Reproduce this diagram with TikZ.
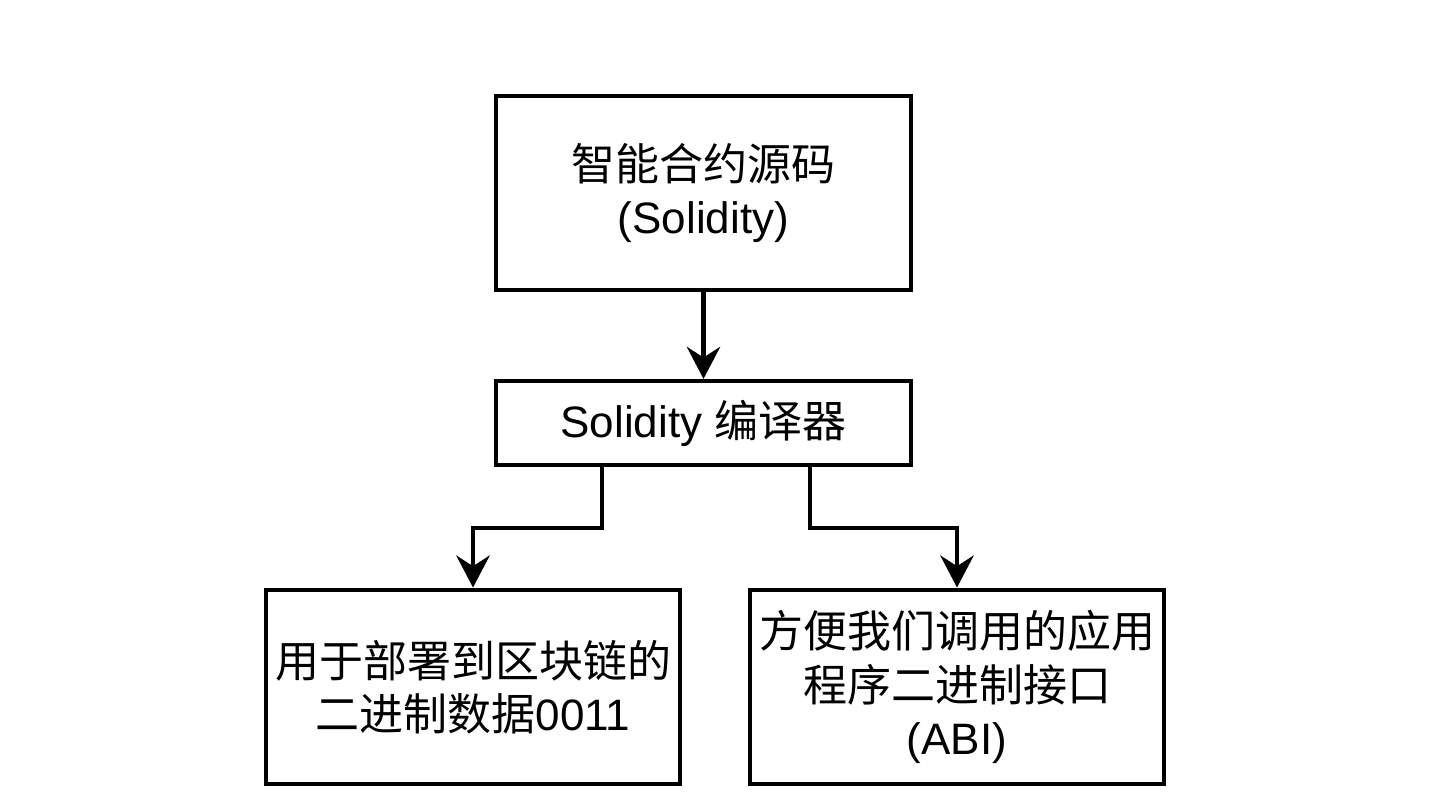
\documentclass[tikz,border=0pt]{standalone}
\usepackage{fontspec}
\setmainfont{Liberation Sans}
\newfontfamily\cjk{Noto Sans CJK SC}
\usetikzlibrary{arrows.meta}
\begin{document}
\begin{tikzpicture}[x=0.75pt,y=-0.75pt,
  box/.style={draw=black, line width=3.2pt, fill=white, align=center, inner sep=0pt,
    minimum width=311pt, font=\fontsize{33}{40}\selectfont},
  arr/.style={draw=black, line width=3.2pt, -{Stealth[length=24pt,width=25pt,inset=8pt]}}]
\useasboundingbox[fill=white] (0,0) rectangle (1430,812);
\node[box, minimum height=146pt] (b1) at (703.5,193) {{\cjk 智能合约源码}\\(Solidity)};
\node[box, minimum height=63pt] (b2) at (703.5,423) {Solidity {\cjk 编译器}};
\node[box, minimum height=146pt] (b3) at (473,687) {{\cjk 用于部署到区块链的}\\{\cjk 二进制数据}0011};
\node[box, minimum height=146pt] (b4) at (957,687) {{\cjk 方便我们调用的应用}\\{\cjk 程序二进制接口}\\(ABI)};
\coordinate (l1) at (602,528);
\coordinate (r1) at (810,528);
\draw[arr] (b1.south) -- (b2.north);
\draw[arr] (b2.south -| l1) -- (l1) -| (b3.north);
\draw[arr] (b2.south -| r1) -- (r1) -| (b4.north);
\end{tikzpicture}
\end{document}
